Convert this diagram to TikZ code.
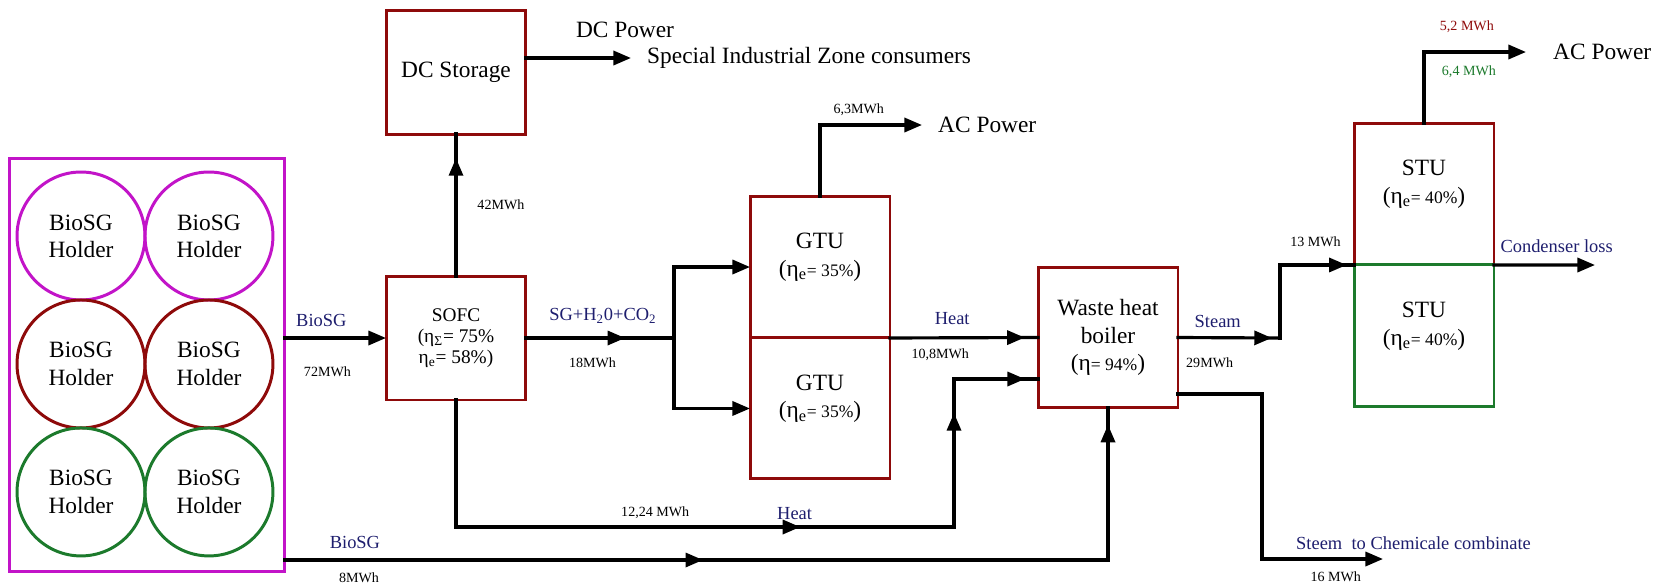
\documentclass[tikz,border=0pt]{standalone}
\usepackage{fontspec}
\setmainfont{Liberation Serif}
\usepackage{tikz}
\usetikzlibrary{positioning, arrows.meta, decorations.markings}
\definecolor{hbred}{HTML}{8E0A0A}
\definecolor{hbgreen}{HTML}{1C7A2C}
\definecolor{hbmag}{HTML}{C214C8}
\definecolor{hbnavy}{HTML}{1E1E6E}
\newcommand{\etae}[1]{(η\textsubscript{e}{\fontsize{10}{12}\selectfont= #1\%})}

\begin{document}
\begin{tikzpicture}[
    x=0.02cm, y=-0.02cm,
    unit/.style={draw=hbred, line width=1.7pt, outer sep=0pt, minimum width=2.8cm, align=center, font=\fontsize{13.3}{15.5}\selectfont},
    holder/.style={circle, line width=1.7pt, outer sep=0pt, inner sep=0pt, minimum size=2.56cm, align=center, font=\fontsize{13.3}{15.5}\selectfont},
    big/.style={font=\fontsize{13.3}{15.5}\selectfont},
    val/.style={font=\fontsize{8}{9}\selectfont},
    flowlbl/.style={font=\fontsize{10.5}{12}\selectfont, text=hbnavy},
    flow/.style={line width=1.8pt, line cap=rect},
    tip/.style={flow, -{Triangle[length=10pt, width=8pt]}},
    midtip/.style={flow, postaction={decorate}, decoration={markings, mark=at position #1 with {\arrow{Triangle[length=10pt, width=8pt]}}}},
]
\useasboundingbox (0,0) rectangle (1667,585);

% BioSG holders
\node[holder, draw=hbmag] (h11) at (81,236) {BioSG\\Holder};
\node[holder, draw=hbmag, right=0pt of h11] (h12) {BioSG\\Holder};
\node[holder, draw=hbred, below=0pt of h11] (h21) {BioSG\\Holder};
\node[holder, draw=hbred, right=0pt of h21] (h22) {BioSG\\Holder};
\node[holder, draw=hbgreen, below=0pt of h21] (h31) {BioSG\\Holder};
\node[holder, draw=hbgreen, right=0pt of h31] (h32) {BioSG\\Holder};
\node[draw=hbmag, line width=1.7pt, outer sep=0pt, minimum width=5.52cm, minimum height=8.28cm] (store) at (147,365) {};

% SOFC and DC storage
\node[unit, minimum height=2.48cm, font=\fontsize{11}{12}\selectfont] (sofc) at (456,338) {SOFC\\(η\textsubscript{Σ}= 75\%\\η\textsubscript{e}= 58\%)};
\node[unit, minimum height=2.48cm, above=2.84cm of sofc] (dcst) {DC Storage};

% Gas turbines
\node[unit, minimum height=2.84cm, text depth=14pt] (gtua) at (820,267) {GTU\\\etae{35}};
\node[unit, minimum height=2.82cm, text depth=14pt, below=0pt of gtua] (gtub) {GTU\\\etae{35}};

% Waste heat boiler
\node[unit, minimum height=2.82cm] (whb) at (1108,337.5) {Waste heat\\boiler\\(η{\fontsize{10}{12}\selectfont= 94\%})};

% Steam turbines
\node[unit, minimum height=2.84cm, text depth=14pt] (stua) at (1424,194) {STU\\\etae{40}};
\node[unit, draw=hbgreen, minimum height=2.84cm, text depth=14pt, below=0pt of stua] (stub) {STU\\\etae{40}};

% Junctions and outlets
\coordinate (dcend) at (631,58);
\coordinate (jg) at (674,338);
\coordinate (gtp) at (922,125);
\coordinate (hq) at (954,527);
\coordinate (hr) at (954,379);
\coordinate (bq) at (1108,560);
\coordinate (sq) at (1280,338);
\coordinate (cr) at (1262,559);
\coordinate (cq) at (1383,559);
\coordinate (stp) at (1526,52);
\coordinate (cdl) at (1595,265);

% BioSG feeds
\draw[tip] (store.east |- sofc) -- node[pos=0.36, above=2pt, flowlbl] {BioSG} node[pos=0.42, below=12pt, val] {72MWh} (sofc);
\draw[midtip=0.508] (store.east |- bq) -- node[pos=0.085, above=2pt, flowlbl] {BioSG} node[pos=0.09, below=3pt, val] {8MWh} (bq);
\draw[midtip=0.89] (bq) -- (whb);

% SOFC outputs
\draw[midtip=0.83] (sofc) -- node[pos=0.5, right=8pt, val] {42MWh} (dcst);
\draw[tip] (dcend -| dcst.east) -- (dcend);
\node[big, above=0.29cm of dcend, xshift=-0.12cm] (dcpw) {DC Power};
\node[big, right=0.2cm of dcend] (sizc) {Special Industrial Zone consumers};
\draw[midtip=0.67] (sofc) -- node[pos=0.52, above=4pt, flowlbl] {SG+H\textsubscript{2}0+CO\textsubscript{2}} node[pos=0.45, below=7pt, val] {18MWh} (jg);
\draw[tip] (jg) |- (gtua);
\draw[tip] (jg) |- (gtub);
\draw[midtip=0.754] (sofc) |- node[pos=0.70, above=0.5pt, val] {12,24 MWh} node[pos=0.84, above=0pt, flowlbl] {Heat} (hq);
\draw[midtip=0.77] (hq) -- (hr);
\draw[midtip=0.845] (hr) -- (hr -| whb.west);

% GTU outputs
\draw[tip] (gtua) |- node[pos=0.69, above=1pt, val] {6,3MWh} (gtp);
\node[big, right=0.2cm of gtp] (acg) {AC Power};
\draw[midtip=0.91] (gtua.south east) -- node[pos=0.42, above=3.5pt, flowlbl] {Heat} node[pos=0.34, below=2pt, val] {10,8MWh} (whb.west);

% Boiler outputs
\draw[midtip=0.92] (whb.east) -- node[pos=0.39, above=1.5pt, flowlbl] {Steam} node[pos=0.31, below=7pt, val] {29MWh} (sq);
\draw[midtip=0.95] (sq) |- node[pos=0.74, above=6pt, val] {13 MWh} (stua.south west);
\draw[flow] ([yshift=-1.13cm]whb.east) -| (cr);
\draw[tip] (cr) -- node[pos=0.61, below=3pt, val] {16 MWh} (cq);
\node[flowlbl, anchor=west] (chem) at (1290,543) {Steem~ to Chemicale combinate};

% STU outputs
\draw[tip] (stua) |- node[pos=0.71, above=7pt, val, text=hbred] {5,2 MWh} node[pos=0.72, below=3.5pt, val, text=hbgreen] {6,4 MWh} (stp);
\node[big, right=0.42cm of stp] (acs) {AC Power};
\draw[tip] (stua.south east) -- node[pos=0.62, above=3pt, flowlbl] {Condenser loss} (cdl);

\end{tikzpicture}
\end{document}
